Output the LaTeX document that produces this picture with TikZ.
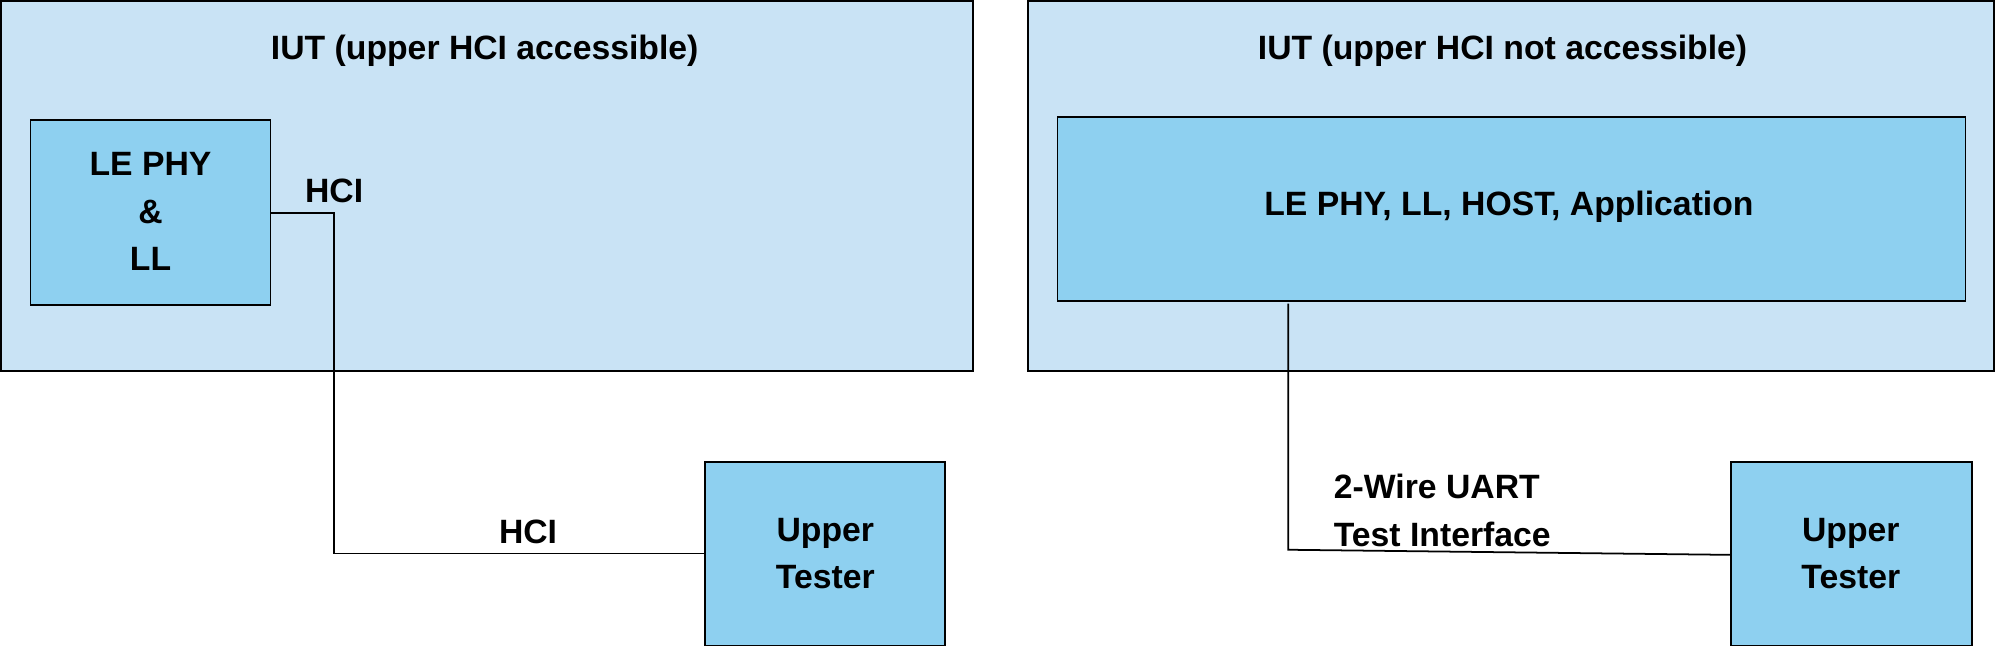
\documentclass[tikz,border=0pt]{standalone}
\usepackage{fontspec}
\setmainfont{Liberation Sans}
\usetikzlibrary{positioning}
\definecolor{iutblue}{HTML}{C9E3F5}
\definecolor{boxblue}{HTML}{8ED0F0}
\tikzset{
	iut/.style={draw=black, fill=iutblue, line width=0.5pt},
	blk/.style={draw=black, fill=boxblue, line width=0.5pt},
	lbl/.style={font=\fontsize{9.6}{11.5}\selectfont\bfseries, align=center},
	wire/.style={draw=black, line width=0.5pt}
}
\begin{document}
\begin{tikzpicture}[x=0.012755cm, y=-0.012755cm]
	\useasboundingbox (0,0) rectangle (1568,508);
	% linke Seite
	\filldraw[iut] (1,1) rectangle (763,291);
	\node[lbl] (iutL) at (380,40) {IUT (upper HCI accessible)};
	\filldraw[blk] (24,94) rectangle (212,239);
	\node[lbl] (phy) at (118,166) {LE PHY\\[2pt]\&\\[2pt]LL};
	\filldraw[blk] (553,362) rectangle (741,506);
	\node[lbl] (testerL) at (647,434) {Upper\\[2pt]Tester};
	\node[lbl] (hciA) at (262,150) {HCI};
	\node[lbl] (hciB) at (414,417) {HCI};
	\coordinate (phyOut) at (212,167);
	\coordinate (testerLIn) at (553,434);
	\draw[wire] (phyOut) -- (262,167) -- (262,434) -- (testerLIn);
	% rechte Seite
	\filldraw[iut] (806,1) rectangle (1563,291);
	\node[lbl] (iutR) at (1178,40) {IUT (upper HCI not accessible)};
	\filldraw[blk] (829,92) rectangle (1541,236);
	\node[lbl] (stack) at (1183,162) {LE PHY, LL, HOST, Application};
	\filldraw[blk] (1357,362) rectangle (1546,506);
	\node[lbl] (testerR) at (1451,434) {Upper\\[2pt]Tester};
	\node[lbl, align=left, anchor=west] (uart) at (1036,400) {2-Wire UART\\[2pt]Test Interface};
	\coordinate (stackOut) at (1010,238);
	\coordinate (testerRIn) at (1357,435);
	\draw[wire] (stackOut) -- (1010,431) -- (testerRIn);
\end{tikzpicture}
\end{document}
